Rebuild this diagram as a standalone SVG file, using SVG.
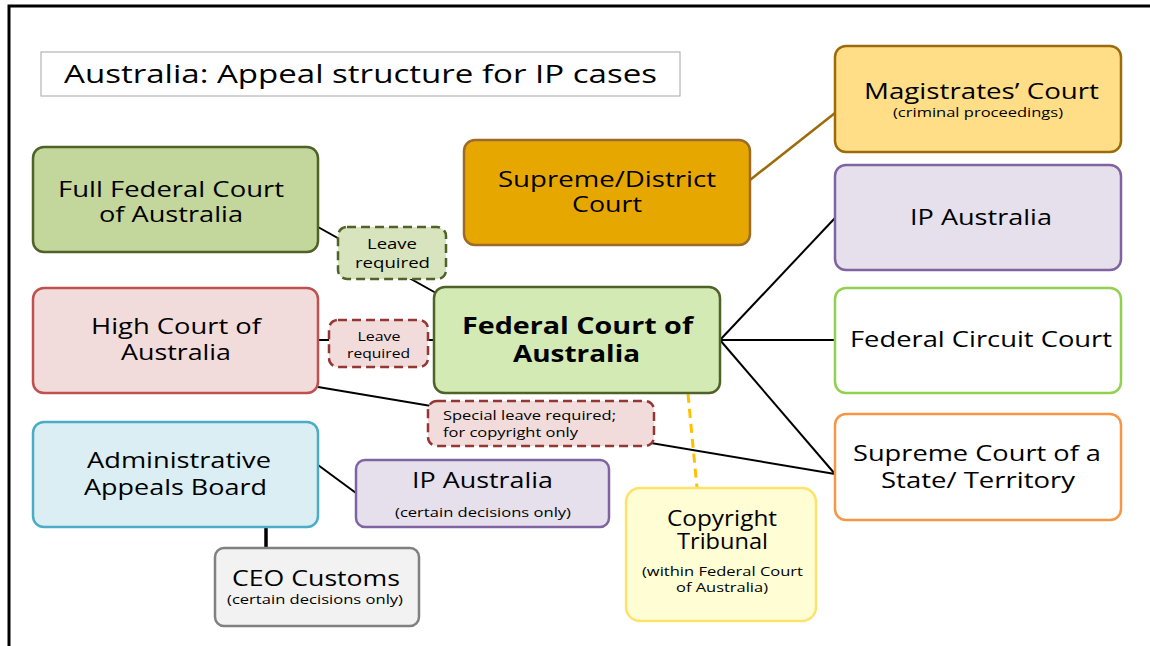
<svg xmlns="http://www.w3.org/2000/svg" width="1150" height="646" viewBox="0 0 1150 646">
<style>
text{font-family:"Open Sans","Noto Sans","DejaVu Sans",sans-serif;fill:#000;text-anchor:middle}
.big{font-size:22px}
.sm{font-size:13px}
.lbl{font-size:14px}
.box{stroke-width:2.5}
.dash{stroke-width:2.5;stroke-dasharray:9 5}
.ln{stroke:#000;stroke-width:2;fill:none}
</style>
<rect width="1150" height="646" fill="#fff"/>
<path d="M9 646 V6 H1150" fill="none" stroke="#000" stroke-width="3"/>
<g id="title">
<rect x="41" y="52" width="639" height="44" fill="#fff" stroke="#a6a6a6" stroke-width="1"/>
<text x="64" y="83" style="font-size:26px;text-anchor:start" textLength="593" lengthAdjust="spacingAndGlyphs">Australia: Appeal structure for IP cases</text>
</g>
<g id="connectors">
<line x1="750" y1="180" x2="835" y2="113" stroke="#9c6b0a" stroke-width="2.5"/>
<line class="ln" x1="318" y1="227" x2="436" y2="293"/>
<line class="ln" x1="318" y1="340" x2="434" y2="340"/>
<line class="ln" x1="318" y1="387" x2="835" y2="474"/>
<line class="ln" x1="720" y1="340" x2="835" y2="218"/>
<line class="ln" x1="720" y1="340" x2="835" y2="340"/>
<line class="ln" x1="720" y1="340" x2="835" y2="474"/>
<line class="ln" x1="318" y1="465" x2="356" y2="493"/>
<line x1="266" y1="527" x2="266" y2="548" stroke="#000" stroke-width="3.5"/>
<line x1="688" y1="394" x2="697" y2="488" stroke="#ffc000" stroke-width="3" stroke-dasharray="9 6"/>
</g>
<g id="magistrates">
<rect class="box" x="835" y="46" width="286" height="106" rx="11" fill="#ffde87" stroke="#9c6b0a"/>
<text class="big" x="981.5" y="99" textLength="235" lengthAdjust="spacingAndGlyphs">Magistrates’ Court</text>
<text class="sm" x="978" y="117" textLength="170" lengthAdjust="spacingAndGlyphs">(criminal proceedings)</text>
</g>
<g id="supreme-district">
<rect class="box" x="464" y="140" width="286" height="105" rx="11" fill="#e6a800" stroke="#9c6b2b"/>
<text class="big" x="607" y="187" textLength="218" lengthAdjust="spacingAndGlyphs">Supreme/District</text>
<text class="big" x="607" y="212" textLength="70" lengthAdjust="spacingAndGlyphs">Court</text>
</g>
<g id="full-federal">
<rect class="box" x="33" y="147" width="285" height="105" rx="11" fill="#c3d69b" stroke="#4f6228"/>
<text class="big" x="171" y="197" textLength="226" lengthAdjust="spacingAndGlyphs">Full Federal Court</text>
<text class="big" x="171" y="222" textLength="144" lengthAdjust="spacingAndGlyphs">of Australia</text>
</g>
<g id="leave-green">
<rect class="dash" x="338" y="227" width="108" height="52" rx="9" fill="#d7e4bd" stroke="#4f6228"/>
<text class="lbl" x="392" y="249" textLength="50" lengthAdjust="spacingAndGlyphs">Leave</text>
<text class="lbl" x="392.5" y="268" textLength="75" lengthAdjust="spacingAndGlyphs">required</text>
</g>
<g id="high-court">
<rect class="box" x="33" y="288" width="285" height="105" rx="11" fill="#f2dcdb" stroke="#c0504d"/>
<text class="big" x="176" y="334" textLength="170" lengthAdjust="spacingAndGlyphs">High Court of</text>
<text class="big" x="176" y="360" textLength="110" lengthAdjust="spacingAndGlyphs">Australia</text>
</g>
<g id="leave-red">
<rect class="dash" x="329" y="320" width="99" height="47" rx="9" fill="#f2dcdb" stroke="#943634"/>
<text class="sm" x="379" y="341" textLength="43" lengthAdjust="spacingAndGlyphs">Leave</text>
<text class="sm" x="378.5" y="358" textLength="63" lengthAdjust="spacingAndGlyphs">required</text>
</g>
<g id="federal-court">
<rect class="box" x="434" y="287" width="286" height="106" rx="11" fill="#d3eab5" stroke="#4f6228"/>
<text x="577.5" y="334" style="font-size:24px;font-weight:bold" textLength="231" lengthAdjust="spacingAndGlyphs">Federal Court of</text>
<text x="576.5" y="362" style="font-size:24px;font-weight:bold" textLength="127" lengthAdjust="spacingAndGlyphs">Australia</text>
</g>
<g id="ip-australia-right">
<rect class="box" x="835" y="165" width="286" height="105" rx="11" fill="#e5e0ec" stroke="#8064a2"/>
<text class="big" x="981" y="225" textLength="142" lengthAdjust="spacingAndGlyphs">IP Australia</text>
</g>
<g id="federal-circuit">
<rect class="box" x="835" y="288" width="286" height="105" rx="11" fill="#fff" stroke="#92d050"/>
<text class="big" x="981" y="347" textLength="262" lengthAdjust="spacingAndGlyphs">Federal Circuit Court</text>
</g>
<g id="supreme-state">
<rect class="box" x="835" y="414" width="286" height="106" rx="11" fill="#fff" stroke="#f79646"/>
<text class="big" x="977" y="461" textLength="248" lengthAdjust="spacingAndGlyphs">Supreme Court of a</text>
<text class="big" x="978" y="488" textLength="194" lengthAdjust="spacingAndGlyphs">State/ Territory</text>
</g>
<g id="special-leave">
<rect class="dash" x="428" y="401" width="226" height="45" rx="9" fill="#f2dcdb" stroke="#943634"/>
<text class="sm" x="443" y="420" style="text-anchor:start" textLength="173" lengthAdjust="spacingAndGlyphs">Special leave required;</text>
<text class="sm" x="443" y="437" style="text-anchor:start" textLength="135" lengthAdjust="spacingAndGlyphs">for copyright only</text>
</g>
<g id="aab">
<rect class="box" x="33" y="422" width="285" height="105" rx="11" fill="#dbeef4" stroke="#4bacc6"/>
<text class="big" x="179" y="468" textLength="184" lengthAdjust="spacingAndGlyphs">Administrative</text>
<text class="big" x="175.5" y="495" textLength="183" lengthAdjust="spacingAndGlyphs">Appeals Board</text>
</g>
<g id="ip-australia-bottom">
<rect class="box" x="356" y="460" width="253" height="67" rx="9" fill="#e5e0ec" stroke="#8064a2"/>
<text class="big" x="482.5" y="488" textLength="141" lengthAdjust="spacingAndGlyphs">IP Australia</text>
<text class="sm" x="483" y="517" textLength="176" lengthAdjust="spacingAndGlyphs">(certain decisions only)</text>
</g>
<g id="ceo-customs">
<rect class="box" x="215" y="548" width="204" height="78" rx="9" fill="#f2f2f2" stroke="#808080"/>
<text class="big" x="316" y="586" textLength="168" lengthAdjust="spacingAndGlyphs">CEO Customs</text>
<text class="sm" x="315" y="604" textLength="176" lengthAdjust="spacingAndGlyphs">(certain decisions only)</text>
</g>
<g id="copyright-tribunal">
<rect class="box" x="626" y="488" width="190" height="133" rx="14" fill="#fffdd3" stroke="#ffe26b"/>
<text class="big" x="722" y="526" textLength="110" lengthAdjust="spacingAndGlyphs">Copyright</text>
<text class="big" x="722.5" y="549" textLength="91" lengthAdjust="spacingAndGlyphs">Tribunal</text>
<text class="sm" x="722.5" y="576" textLength="161" lengthAdjust="spacingAndGlyphs">(within Federal Court</text>
<text class="sm" x="722" y="592" textLength="92" lengthAdjust="spacingAndGlyphs">of Australia)</text>
</g>
</svg>
